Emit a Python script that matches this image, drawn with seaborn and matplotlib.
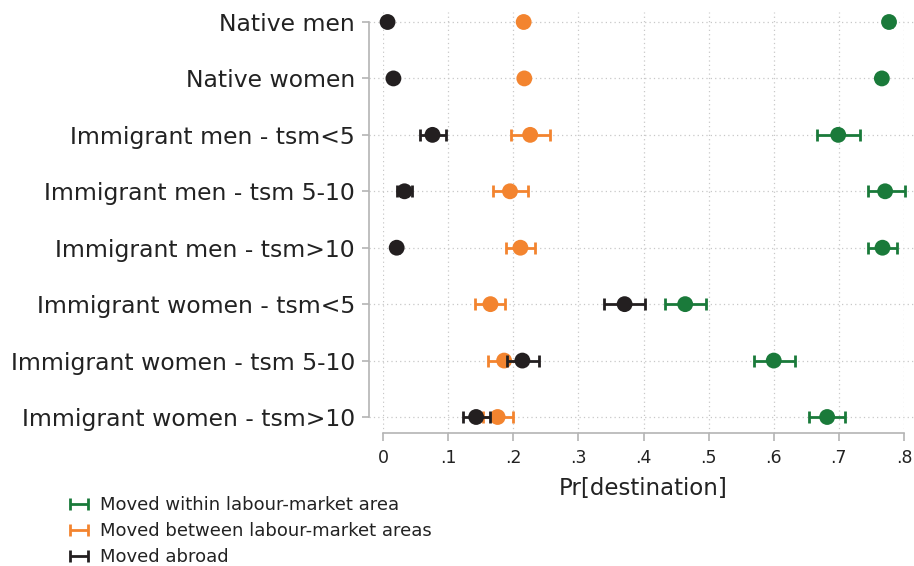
import matplotlib
matplotlib.use("Agg")
import matplotlib.pyplot as plt
import seaborn as sns
import numpy as np
import pandas as pd

groups = ["Native men", "Native women", "Immigrant men - tsm<5", "Immigrant men - tsm 5-10",
          "Immigrant men - tsm>10", "Immigrant women - tsm<5", "Immigrant women - tsm 5-10",
          "Immigrant women - tsm>10"]

series = ["Moved within labour-market area", "Moved between labour-market areas", "Moved abroad"]

within_est = [0.777, 0.766, 0.699, 0.771, 0.767, 0.464, 0.600, 0.682]
within_lo = [0.773, 0.762, 0.666, 0.744, 0.745, 0.433, 0.569, 0.654]
within_hi = [0.781, 0.770, 0.733, 0.801, 0.790, 0.496, 0.632, 0.710]

between_est = [0.216, 0.217, 0.226, 0.195, 0.211, 0.165, 0.186, 0.176]
between_lo = [0.212, 0.213, 0.196, 0.169, 0.189, 0.142, 0.161, 0.154]
between_hi = [0.220, 0.221, 0.257, 0.222, 0.233, 0.188, 0.210, 0.200]

abroad_est = [0.007, 0.016, 0.076, 0.033, 0.021, 0.371, 0.214, 0.143]
abroad_lo = [0.005, 0.014, 0.057, 0.022, 0.018, 0.339, 0.190, 0.123]
abroad_hi = [0.009, 0.018, 0.096, 0.045, 0.024, 0.403, 0.240, 0.164]

xticks = [0, 0.1, 0.2, 0.3, 0.4, 0.5, 0.6, 0.7, 0.8]
xticklabels = ["0", ".1", ".2", ".3", ".4", ".5", ".6", ".7", ".8"]

colors = {series[0]: "#1a7a3a", series[1]: "#f3842f", series[2]: "#231f20"}

frames = []
for name, est, lo, hi in [(series[0], within_est, within_lo, within_hi),
                          (series[1], between_est, between_lo, between_hi),
                          (series[2], abroad_est, abroad_lo, abroad_hi)]:
    frames.append(pd.DataFrame({"group": groups, "series": name, "est": est, "lo": lo, "hi": hi,
                                "pos": np.arange(len(groups))}))
df = pd.concat(frames, ignore_index=True)

sns.set_style("white")
plt.rcParams["font.family"] = ["DejaVu Sans"]

W, H = 914, 566
PX = 72 / 100  # points per pixel at dpi 100
fig = plt.figure(figsize=(W / 100, H / 100), dpi=100)
ax_left, ax_right, ax_top, ax_bottom = 383, 904, 12, 433
ax = fig.add_axes([ax_left / W, 1 - ax_bottom / H, (ax_right - ax_left) / W, (ax_bottom - ax_top) / H])

ax.set_xlim(0, 0.8)
row_px = (417 - 22) / 7
ax.set_ylim(7 + 16 / row_px, -10 / row_px)

# horizontal dotted guides through each row
for i in range(len(groups)):
    ax.axhline(i, xmin=-14 / 521, xmax=1 + 10 / 521, color="#c8c8c8", lw=0.9,
               ls=(0, (1, 2.5)), clip_on=False, zorder=0)

handles = []
for k, name in enumerate(series):
    sub = df[df["series"] == name]
    err = np.vstack([sub["est"] - sub["lo"], sub["hi"] - sub["est"]])
    eb = ax.errorbar(sub["est"], sub["pos"], xerr=err, fmt="none", ecolor=colors[name],
                     elinewidth=2.0, capsize=4.5, capthick=2.0, zorder=2 + 2 * k, clip_on=False,
                     label=name)
    handles.append(eb)
    sns.scatterplot(data=sub, x="est", y="pos", color=colors[name], s=130, edgecolor="none",
                    ax=ax, zorder=3 + 2 * k, clip_on=False, legend=False)

ax.set_xticks(xticks)
ax.set_xticklabels(xticklabels)
ax.set_yticks(range(len(groups)))
ax.set_yticklabels(groups)
ax.grid(axis="x", color="#c8c8c8", lw=0.9, ls=(0, (1, 2.5)))
ax.set_axisbelow(True)

for s in ["top", "right"]:
    ax.spines[s].set_visible(False)
ax.spines["left"].set_position(("outward", 14 * PX))
ax.spines["left"].set_bounds(0, 7)
for s in ["left", "bottom"]:
    ax.spines[s].set_color("#b4b4b4")
    ax.spines[s].set_linewidth(1.2)

ax.tick_params(axis="y", length=7 * PX, width=1.2, color="#b4b4b4", labelsize=16.9,
               labelcolor="#222222", pad=7 * PX, left=True)
ax.tick_params(axis="x", length=8 * PX, width=1.2, color="#b4b4b4", labelsize=12.5,
               labelcolor="#222222", pad=6, bottom=True)
ax.set_xlabel("Pr[destination]", fontsize=16.5, color="#222222", labelpad=7)
ax.set_ylabel("")

fig.legend(handles=handles, labels=series, loc="upper left",
           bbox_to_anchor=(65 / W, 1 - 489 / H), frameon=False, fontsize=13,
           handlelength=0.7, handletextpad=0.85, labelspacing=0.45, borderaxespad=0,
           labelcolor="#222222")

fig.savefig("out.png", dpi=100)
